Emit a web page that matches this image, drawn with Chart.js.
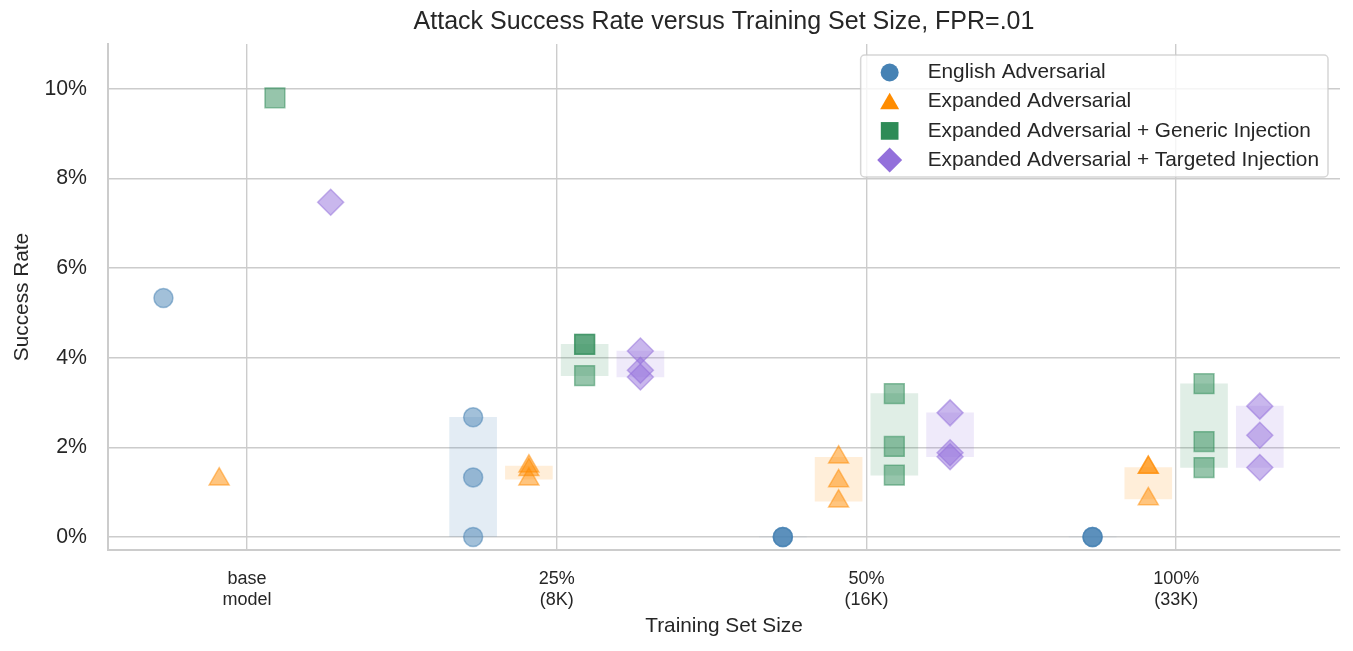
<!DOCTYPE html>
<html>
<head>
<meta charset="utf-8">
<script src="https://cdn.jsdelivr.net/npm/chart.js@4.4.1/dist/chart.umd.min.js"></script>
<style>
  html, body { margin: 0; padding: 0; background: #ffffff; }
  #wrap { width: 1353px; height: 651px; position: relative; }
</style>
</head>
<body>
<div id="wrap"><canvas id="c"></canvas></div>
<script>
// ---- data ----
const categories = [["base", "model"], ["25%", "(8K)"], ["50%", "(16K)"], ["100%", "(33K)"]];
const seriesNames = [
  "English Adversarial",
  "Expanded Adversarial",
  "Expanded Adversarial + Generic Injection",
  "Expanded Adversarial + Targeted Injection"
];
// success rate (%) per training-set size, one value per run
const englishAdv  = [[5.33], [2.67, 1.33, 0], [0, 0, 0], [0, 0, 0]];
const expandedAdv = [[1.29], [1.58, 1.5, 1.29], [1.78, 1.25, 0.8], [1.55, 1.55, 0.85]];
const genericInj  = [[9.8], [4.3, 4.3, 3.6], [3.2, 2.02, 1.38], [3.42, 2.13, 1.55]];
const targetedInj = [[7.47], [4.15, 3.72, 3.57], [2.77, 1.88, 1.79], [2.92, 2.27, 1.55]];
const yTicks = [0, 2, 4, 6, 8, 10];

// ---- styling / layout ----
const seriesValues = [englishAdv, expandedAdv, genericInj, targetedInj];
const colors = [[70, 130, 180], [255, 140, 0], [46, 139, 87], [147, 112, 219]];
const dodge = [-0.27, -0.09, 0.09, 0.27];
const styles = ['circle', 'triangle', 'rect', 'rectRot'];
const radii = [9.5, 11.5, 14, 13];
const legendRadii = [9, 11, 12.5, 12.5];
const rgba = (c, a) => `rgba(${c[0]},${c[1]},${c[2]},${a})`;
const FONT = '"Liberation Sans", Arial, Helvetica, sans-serif';
const TEXT = '#262626';
const GRID = '#cccccc';
const LEGEND_FONT = 20.8;

Chart.defaults.font.family = FONT;
Chart.defaults.color = TEXT;

const datasets = [];
seriesValues.forEach((vals, s) => {
  // range boxes (min..max across runs)
  datasets.push({
    type: 'bar',
    data: vals.map((runs, i) => ({x: i + dodge[s], y: [Math.min(...runs), Math.max(...runs)]}))
              .filter((d, i) => vals[i].length > 1),
    backgroundColor: rgba(colors[s], 0.15),
    borderWidth: 0,
    barThickness: 47,
    grouped: false,
    order: 10
  });
});
seriesValues.forEach((vals, s) => {
  const pts = [];
  vals.forEach((runs, i) => runs.forEach(v => pts.push({x: i + dodge[s], y: v})));
  datasets.push({
    type: 'scatter',
    label: seriesNames[s],
    data: pts,
    pointStyle: styles[s],
    pointRadius: radii[s],
    pointHoverRadius: radii[s],
    backgroundColor: rgba(colors[s], 0.5),
    borderColor: rgba(colors[s], 0.5),
    borderWidth: 1.5,
    clip: false,
    order: 1
  });
});

const layoutPlugin = {
  id: 'centerTitleAndLegend',
  afterLayout(chart) {
    // center the title over the plotting area, like the reference
    const t = chart.titleBlock, ca = chart.chartArea;
    if (t) { t.left = ca.left; t.right = ca.right; }
  },
  afterDraw(chart) {
    const ctx = chart.ctx, ca = chart.chartArea;
    ctx.save();
    ctx.font = LEGEND_FONT + 'px ' + FONT;
    const tw = Math.max(...seriesNames.map(n => ctx.measureText(n).width));
    const right = ca.right - 12;
    const left = right - (tw + 76);
    const top = ca.top + 11;
    const h = 122;
    ctx.beginPath();
    if (ctx.roundRect) ctx.roundRect(left, top, right - left, h, 4); else ctx.rect(left, top, right - left, h);
    ctx.fillStyle = 'rgba(255,255,255,0.8)';
    ctx.fill();
    ctx.strokeStyle = 'rgba(204,204,204,0.8)';
    ctx.lineWidth = 1.5;
    ctx.stroke();
    seriesNames.forEach((name, s) => {
      const y = top + 17.5 + s * 29.2;
      ctx.fillStyle = rgba(colors[s], 1);
      Chart.helpers.drawPoint(ctx, {pointStyle: styles[s], radius: legendRadii[s], rotation: 0, borderWidth: 0}, left + 29, y + (s === 1 ? 2 : 0));
      ctx.fillStyle = TEXT;
      ctx.textAlign = 'left';
      ctx.textBaseline = 'middle';
      ctx.fillText(name, left + 67, y);
    });
    ctx.restore();
  }
};

new Chart(document.getElementById('c'), {
  type: 'scatter',
  data: {datasets},
  options: {
    responsive: true,
    maintainAspectRatio: false,
    animation: false,
    events: [],
    layout: {autoPadding: false, padding: {left: 0, right: 13, top: 0, bottom: 0}},
    plugins: {
      legend: {display: false},
      tooltip: {enabled: false},
      title: {
        display: true,
        text: 'Attack Success Rate versus Training Set Size, FPR=.01',
        color: TEXT,
        font: {size: 25, weight: 'normal', lineHeight: 1.0},
        padding: {top: 9.5, bottom: 9.5}
      }
    },
    scales: {
      x: {
        type: 'linear',
        min: -0.449,
        max: 3.529,
        offset: false,
        afterBuildTicks: (scale) => { scale.ticks = categories.map((c, i) => ({value: i})); },
        afterFit: (scale) => { scale.height = 101; },
        ticks: {
          autoSkip: false,
          maxRotation: 0,
          minRotation: 0,
          padding: 18.5,
          color: TEXT,
          font: {size: 18, lineHeight: 1.17},
          callback: (v) => categories[v]
        },
        grid: {color: GRID, lineWidth: 1.4, drawTicks: false, offset: false},
        border: {display: true, color: GRID, width: 2},
        title: {
          display: true,
          text: 'Training Set Size',
          color: TEXT,
          font: {size: 20.8, lineHeight: 1.2},
          padding: {top: 0, bottom: 12.5}
        }
      },
      y: {
        type: 'linear',
        min: -0.29,
        max: 11,
        afterBuildTicks: (scale) => { scale.ticks = yTicks.map(v => ({value: v})); },
        afterFit: (scale) => { scale.width = 108; },
        ticks: {
          padding: 21,
          color: TEXT,
          font: {size: 21.3},
          callback: (v) => v + '%'
        },
        grid: {color: GRID, lineWidth: 1.4, drawTicks: false, offset: false},
        border: {display: true, color: GRID, width: 2},
        title: {
          display: true,
          text: 'Success Rate',
          color: TEXT,
          font: {size: 20.8, lineHeight: 1.2},
          padding: {top: 9.5, bottom: 0}
        }
      }
    }
  },
  plugins: [layoutPlugin]
});
</script>
</body>
</html>
